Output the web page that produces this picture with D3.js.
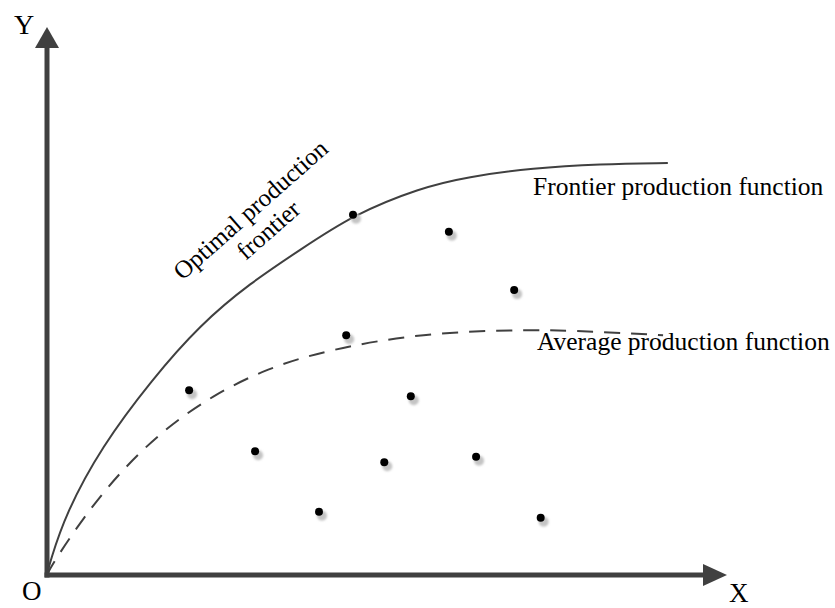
<!DOCTYPE html>
<html lang="en">
<head>
    <meta charset="UTF-8">
    <title>Production frontier</title>
    <script src="https://d3js.org/d3.v7.min.js"></script>
    <style>
        body { margin: 0; background: #fff; }
        svg { display: block; }
        .axis-line { stroke: #404040; stroke-width: 5px; }
        .arrow { fill: #404040; }
        .curve { fill: none; stroke: #404040; stroke-width: 2px; }
        .curve.avg { stroke-dasharray: 16, 11; }
    </style>
</head>
<body>
    <svg width="835" height="608"></svg>
    <script>
        // curve readings (x, y in axis units)
        const frontierX = [0, 0.04, 0.28, 0.80, 1.54, 2.25, 2.99, 3.72, 4.50, 5.49, 6.18, 7.15, 8.13, 9.13];
        const frontierY = [0, 0.22, 1.13, 2.33, 3.55, 4.55, 5.31, 5.91, 6.55, 7.04, 7.24, 7.40, 7.47, 7.49];

        const averageX = [0, 0.07, 0.53, 1.07, 1.71, 2.44, 3.24, 4.12, 5.49, 7.15, 8.13, 9.06];
        const averageY = [0, 0.18, 1.04, 1.87, 2.64, 3.27, 3.76, 4.09, 4.40, 4.47, 4.42, 4.36];

        // observed producers
        const dotX = [4.50, 5.91, 6.87, 4.40, 2.09, 5.35, 3.06, 4.96, 6.31, 4.00, 7.26];
        const dotY = [6.55, 6.24, 5.18, 4.36, 3.36, 3.25, 2.25, 2.05, 2.15, 1.15, 1.04];

        const serif = "'Liberation Serif'";
        const svg = d3.select("svg");

        const x = d3.scaleLinear().domain([0, 10]).range([47, 727]);
        const y = d3.scaleLinear().domain([0, 10]).range([575, 25]);

        const defs = svg.append("defs");
        defs.append("filter")
            .attr("id", "soft")
            .attr("x", "-50%").attr("y", "-50%")
            .attr("width", "200%").attr("height", "200%")
            .append("feGaussianBlur")
            .attr("stdDeviation", 1.3);

        // axes
        const x0 = x(0), y0 = y(0);
        const xTip = x(10), yTip = y(10) + 2;

        svg.append("line")
            .attr("class", "axis-line")
            .attr("x1", x0).attr("y1", y0 + 2.5)
            .attr("x2", x0).attr("y2", yTip + 20);
        svg.append("line")
            .attr("class", "axis-line")
            .attr("x1", x0 - 2.5).attr("y1", y0)
            .attr("x2", xTip - 22).attr("y2", y0);

        svg.append("path")
            .attr("class", "arrow")
            .attr("d", `M${x0},${yTip} L${x0 + 12},${yTip + 21} L${x0 - 12},${yTip + 21} Z`);
        svg.append("path")
            .attr("class", "arrow")
            .attr("d", `M${xTip},${y0} L${xTip - 24},${y0 - 11} L${xTip - 24},${y0 + 11} Z`);

        const label = (px, py, size, txt) => svg.append("text")
            .attr("x", px).attr("y", py)
            .style("font-family", serif)
            .style("font-size", size + "px")
            .text(txt);

        label(14, 34, 28, "Y");
        label(22, 600, 27, "O");
        label(729, 602, 27, "X");

        // curves
        const line = d3.line()
            .x(d => x(d[0]))
            .y(d => y(d[1]))
            .curve(d3.curveBasis);

        svg.append("path")
            .attr("class", "curve")
            .attr("d", line(d3.zip(frontierX, frontierY)));

        svg.append("path")
            .attr("class", "curve avg")
            .attr("d", line(d3.zip(averageX, averageY)));

        // dots with soft shadow
        const dots = d3.zip(dotX, dotY);
        svg.append("g").selectAll("circle")
            .data(dots)
            .join("circle")
            .attr("cx", d => x(d[0]) + 3)
            .attr("cy", d => y(d[1]) + 4)
            .attr("r", 5)
            .attr("fill", "#c4c4c4")
            .attr("filter", "url(#soft)");
        svg.append("g").selectAll("circle")
            .data(dots)
            .join("circle")
            .attr("cx", d => x(d[0]))
            .attr("cy", d => y(d[1]))
            .attr("r", 4)
            .attr("fill", "#000");

        // labels
        label(533, 195, 25.5, "Frontier production function");
        label(537, 350, 25.5, "Average production function");

        const opt = svg.append("text")
            .attr("transform", "translate(256,216) rotate(-41.5)")
            .attr("text-anchor", "middle")
            .style("font-family", serif)
            .style("font-size", "25px");
        opt.append("tspan").attr("x", 0).attr("y", 0).text("Optimal production");
        opt.append("tspan").attr("x", 0).attr("y", 27).text("frontier");
    </script>
</body>
</html>
